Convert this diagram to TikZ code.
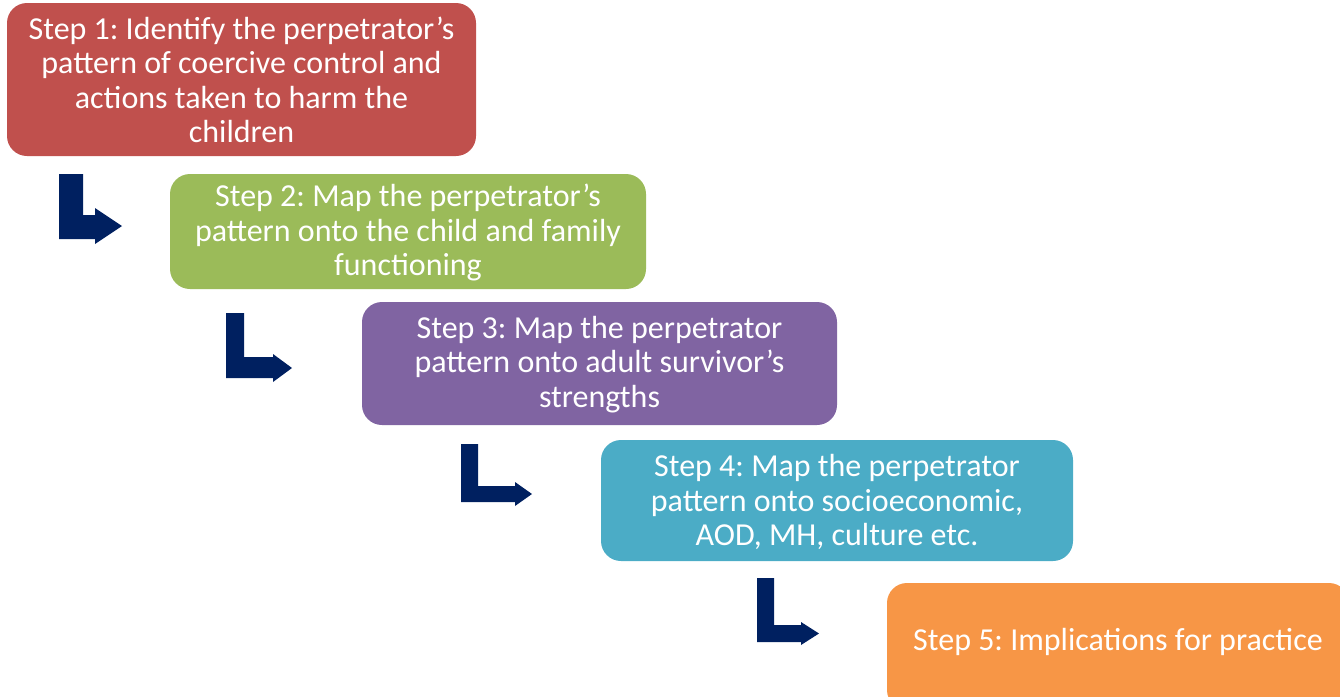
\documentclass[tikz,border=0pt]{standalone}
\usepackage{fontspec}
\setmainfont{Carlito}
\frenchspacing
\definecolor{boxred}{HTML}{C0504D}
\definecolor{boxgreen}{HTML}{9BBB59}
\definecolor{boxpurple}{HTML}{8064A2}
\definecolor{boxteal}{HTML}{4BACC6}
\definecolor{boxorange}{HTML}{F79646}
\definecolor{navy}{HTML}{002060}
\begin{document}
\begin{tikzpicture}[x=1pt,y=-1pt,
  stepbox/.style={rounded corners=20pt, draw=none},
  steptext/.style={text=white, align=center, font=\fontsize{32}{34.5}\selectfont\frenchspacing, inner sep=0pt},
  bentarrow/.style={fill=navy, draw=none}]
\useasboundingbox (0,0) rectangle (1340,696);
\begin{scope}
\clip (0,0) rectangle (1340,696);
% boxes
\path[stepbox, fill=boxred]    (7,3) rectangle (476,156);
\path[stepbox, fill=boxgreen]  (170,174) rectangle (646,289);
\path[stepbox, fill=boxpurple] (362,302) rectangle (837,425);
\path[stepbox, fill=boxteal]   (601,440) rectangle (1073,561);
\path[stepbox, fill=boxorange] (887,583) rectangle (1349,710);
\end{scope}
% labels
\node[steptext] (s1) at (241.5,80) {Step 1: Identify the perpetrator’s\\pattern of coercive control and\\actions taken to harm the\\children};
\node[steptext] (s2) at (408,232.5) {Step 2: Map the perpetrator’s\\pattern onto the child and family\\functioning};
\node[steptext] (s3) at (599.5,364.5) {Step 3: Map the perpetrator\\pattern onto adult survivor’s\\strengths};
\node[steptext] (s4) at (837,502) {Step 4: Map the perpetrator\\pattern onto socioeconomic,\\AOD, MH, culture etc.};
\node[steptext] (s5) at (1118,641.5) {Step 5: Implications for practice};
% bent arrows
\path[bentarrow] (59,174) -- (83,174) -- (83,215) -- (95,215) -- (95,208) -- (122,226) -- (95,244) -- (95,239) -- (59,239) -- cycle;
\path[bentarrow] (226,313) -- (244,313) -- (244,357) -- (273,357) -- (273,354) -- (292,368) -- (273,382) -- (273,378) -- (226,378) -- cycle;
\path[bentarrow] (461,444) -- (478,444) -- (478,486) -- (515,486) -- (515,482) -- (532,494) -- (515,506) -- (515,502) -- (461,502) -- cycle;
\path[bentarrow] (757,578) -- (774,578) -- (774,625) -- (801,625) -- (801,622) -- (819,633.5) -- (801,645) -- (801,642) -- (757,642) -- cycle;
\end{tikzpicture}
\end{document}
